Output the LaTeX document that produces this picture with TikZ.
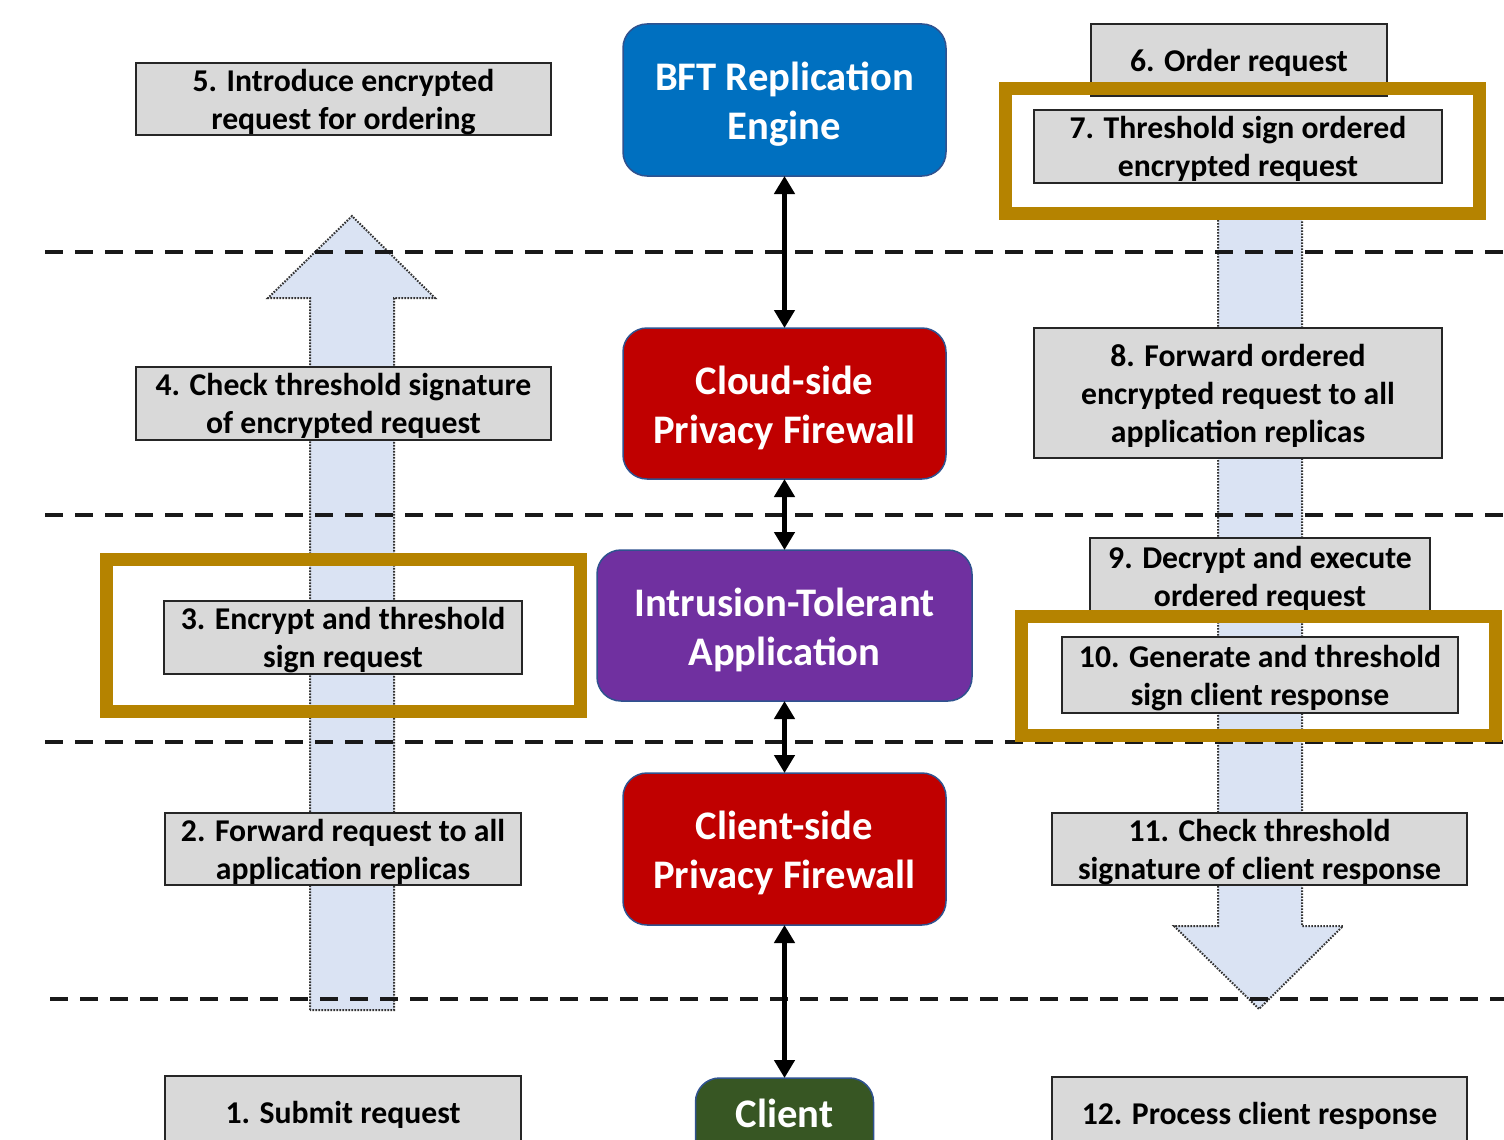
\documentclass[tikz,border=0pt]{standalone}
\usepackage{fontspec}
\setmainfont{Carlito}
\usetikzlibrary{arrows.meta}
\definecolor{gbox}{HTML}{D9D9D9}
\definecolor{goldc}{HTML}{B58300}
\definecolor{bftblue}{HTML}{0070C0}
\definecolor{fwred}{HTML}{C00000}
\definecolor{itapurple}{HTML}{7030A0}
\definecolor{clgreen}{HTML}{375623}
\definecolor{edgeblue}{HTML}{2F528F}
\definecolor{arrfill}{HTML}{DAE3F3}
\newcommand{\gtop}{\rule{0pt}{28.4pt}}
\newcommand{\gbot}{\rule[-6pt]{0pt}{6pt}}
\newcommand{\ctop}{\rule{0pt}{38.5pt}}
\newcommand{\cbot}{\rule[-7.7pt]{0pt}{7.7pt}}
\begin{document}
\begin{tikzpicture}[x=1pt,y=-1pt,
  graybox/.style={draw=black!85, line width=2pt, fill=gbox, inner sep=0pt, outer sep=0pt,
    align=center, font=\fontsize{31.7}{38}\selectfont\bfseries, text=black},
  compbox/.style={draw=edgeblue, line width=1.5pt, rounded corners=24pt, inner sep=0pt, outer sep=0pt,
    align=center, font=\fontsize{40.6}{49}\selectfont\bfseries, text=white},
  goldbox/.style={draw=goldc, line width=13pt},
  sepline/.style={dash pattern=on 18pt off 12pt, line width=3.5pt, black!90},
  dbl/.style={line width=5pt, {Triangle[length=18pt,width=20pt]}-{Triangle[length=18pt,width=20pt]}},
  blockarrow/.style={fill=arrfill, draw=black!80, dash pattern=on 1.6pt off 1.4pt, line width=2pt}]
\useasboundingbox (0,0) rectangle (1504,1140);
\clip (0,0) rectangle (1504,1140);
\fill[white] (0,0) rectangle (1504,1140);

% block arrows
\draw[blockarrow] (310,1010) -- (310,298) -- (268,298) -- (352,216) -- (435,298) -- (394,298) -- (394,1010) -- cycle;
\draw[blockarrow] (1218,214) -- (1218,926) -- (1174,926) -- (1259,1009) -- (1343,926) -- (1302,926) -- (1302,214) -- cycle;

% separators
\draw[sepline] (45,252) -- (1504,252);
\draw[sepline] (45,515) -- (1504,515);
\draw[sepline] (45,742) -- (1504,742);
\draw[sepline] (50,999) -- (1504,999);

% left step boxes
\node[graybox, minimum width=415pt, minimum height=72pt] (s5) at (343.5,99) {\gtop 5. Introduce encrypted\\request for ordering\gbot};
\node[graybox, minimum width=415pt, minimum height=71pt] (s4) at (343.5,403.5) {\gtop 4. Check threshold signature\\of encrypted request\gbot};
\node[graybox, minimum width=358pt, minimum height=73pt] (s3) at (343,637.5) {\gtop 3. Encrypt and threshold\\sign request\gbot};
\node[graybox, minimum width=356pt, minimum height=72pt] (s2) at (343,849) {\gtop 2. Forward request to all\\application replicas\gbot};
\node[graybox, minimum width=356pt, minimum height=72pt] (s1) at (343,1112) {\gtop 1. Submit request\gbot};

% right step boxes
\node[graybox, minimum width=296pt, minimum height=72pt] (s6) at (1239,60) {\gtop 6. Order request\gbot};
\node[graybox, minimum width=408pt, minimum height=71pt] (s7) at (1238,146.5) {\gtop 7. Threshold sign ordered\\encrypted request\gbot};
\node[graybox, minimum width=408pt, minimum height=130pt] (s8) at (1238,393) {\gtop 8. Forward ordered\\encrypted request to all\\application replicas\gbot};
\node[graybox, minimum width=340pt, minimum height=76pt] (s9) at (1260,576) {\gtop 9. Decrypt and execute\\ordered request\gbot};
\node[graybox, minimum width=396pt, minimum height=76pt] (s10) at (1260,675) {\gtop 10. Generate and threshold\\sign client response\gbot};
\node[graybox, minimum width=415pt, minimum height=72pt] (s11) at (1259.5,849) {\gtop 11. Check threshold\\signature of client response\gbot};
\node[graybox, minimum width=415pt, minimum height=72pt] (s12) at (1259.5,1113) {\gtop 12. Process client response\gbot};

% highlight frames
\draw[goldbox] (1005,88) rectangle (1479,213);
\draw[goldbox] (106.5,559.5) rectangle (580.5,711.5);
\draw[goldbox] (1021.5,616.5) rectangle (1495.5,735.5);

% components
\node[compbox, fill=bftblue, minimum width=323pt, minimum height=152pt] (bft) at (784.5,100) {\ctop BFT Replication\\Engine\cbot};
\node[compbox, fill=fwred, minimum width=323pt, minimum height=151pt] (cloud) at (784.5,403.5) {\ctop Cloud-side\\Privacy Firewall\cbot};
\node[compbox, fill=itapurple, minimum width=375pt, minimum height=151pt] (ita) at (784.5,625.5) {\ctop Intrusion-Tolerant\\Application\cbot};
\node[compbox, fill=fwred, minimum width=323pt, minimum height=152pt] (cpf) at (784.5,849) {\ctop Client-side\\Privacy Firewall\cbot};
\node[compbox, fill=clgreen, minimum width=178pt, text height=49pt, text depth=103pt, anchor=north] (client) at (784.5,1078) {Client};

% connectors
\draw[dbl] (bft.south) -- (cloud.north);
\draw[dbl] (cloud.south) -- (ita.north);
\draw[dbl] (ita.south) -- (cpf.north);
\draw[dbl] (cpf.south) -- (client.north);
\end{tikzpicture}
\end{document}
